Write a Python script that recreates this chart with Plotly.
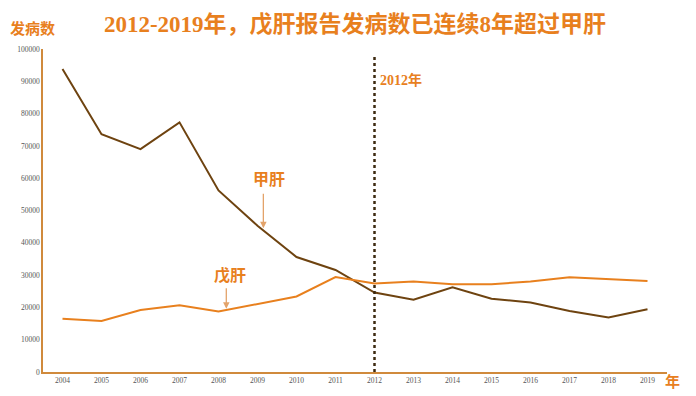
import plotly.graph_objects as go

years = list(range(2004, 2020))
hep_a = [93800, 73600, 69000, 77300, 56200, 45300, 35600, 31600,
         24600, 22400, 26200, 22700, 21500, 18900, 16900, 19400]
hep_e = [16500, 15800, 19200, 20700, 18700, 21100, 23400, 29400,
         27400, 28000, 27200, 27200, 28000, 29300, 28800, 28200]
y_ticks = [0, 10000, 20000, 30000, 40000, 50000, 60000, 70000, 80000, 90000, 100000]

ORANGE = "#E8801E"
BROWN = "#6E4310"
CJK = "Liberation Serif, Noto Sans CJK SC"
SERIF = "Liberation Serif"

fig = go.Figure()
fig.add_trace(go.Scatter(x=years, y=hep_a, mode="lines", name="甲肝",
                         line=dict(color=BROWN, width=2)))
fig.add_trace(go.Scatter(x=years, y=hep_e, mode="lines", name="戊肝",
                         line=dict(color=ORANGE, width=2)))

fig.add_shape(type="line", xref="x", yref="y", x0=2012, x1=2012, y0=0, y1=98000,
              line=dict(color="#3D2A10", width=2.5, dash="dot"))

fig.add_annotation(x=2012.1, y=90500, xref="x", yref="y", text="<b>2012年</b>",
                   showarrow=False, xanchor="left",
                   font=dict(family=CJK, size=14, color=ORANGE))

# 甲肝 label + arrow
fig.add_annotation(x=2009.15, y=44500, xref="x", yref="y", ax=0, ay=-36,
                   text="", showarrow=True, arrowhead=2, arrowsize=1,
                   arrowwidth=1.3, arrowcolor="#E3A36A")
fig.add_annotation(x=2009.3, y=59500, xref="x", yref="y", text="<b>甲肝</b>",
                   showarrow=False, font=dict(family=CJK, size=16, color=ORANGE))
# 戊肝 label + arrow
fig.add_annotation(x=2008.2, y=19600, xref="x", yref="y", ax=0, ay=-22,
                   text="", showarrow=True, arrowhead=2, arrowsize=1,
                   arrowwidth=1.3, arrowcolor="#E3A36A")
fig.add_annotation(x=2008.3, y=29900, xref="x", yref="y", text="<b>戊肝</b>",
                   showarrow=False, font=dict(family=CJK, size=16, color=ORANGE))

fig.update_layout(
    width=696, height=396,
    margin=dict(l=35, r=37, t=41, b=32, autoexpand=False),
    paper_bgcolor="white", plot_bgcolor="white",
    showlegend=False,
    title=dict(text="<b>2012-2019年，戊肝报告发病数已连续8年超过甲肝</b>",
               x=0.4986, xanchor="center", y=0.96, yanchor="middle",
               font=dict(family=CJK, size=23, color=ORANGE)),
    xaxis=dict(range=[2003.5, 2019.5], tickvals=years, ticktext=[str(y) for y in years],
               showgrid=False, zeroline=False, showline=True, linecolor="#D08A3C",
               linewidth=1.5, ticks="", tickfont=dict(family=SERIF, size=7.5, color="#555"),
               automargin=False, fixedrange=True),
    yaxis=dict(range=[0, 100000], tickvals=y_ticks, ticktext=[str(v) for v in y_ticks],
               showgrid=False, zeroline=False, showline=True, linecolor="#D08A3C",
               linewidth=1.5, ticks="", tickfont=dict(family=SERIF, size=7.5, color="#555"),
               automargin=False, fixedrange=True),
)

fig.add_annotation(xref="paper", yref="paper", x=-0.056, y=1.065, xanchor="left",
                   yanchor="middle", text="<b>发病数</b>", showarrow=False,
                   font=dict(family=CJK, size=15, color=ORANGE))
fig.add_annotation(xref="paper", yref="paper", x=0.994, y=-0.028, xanchor="left",
                   yanchor="middle", text="<b>年</b>", showarrow=False,
                   font=dict(family=CJK, size=15, color=ORANGE))

fig.write_html("out.html")
